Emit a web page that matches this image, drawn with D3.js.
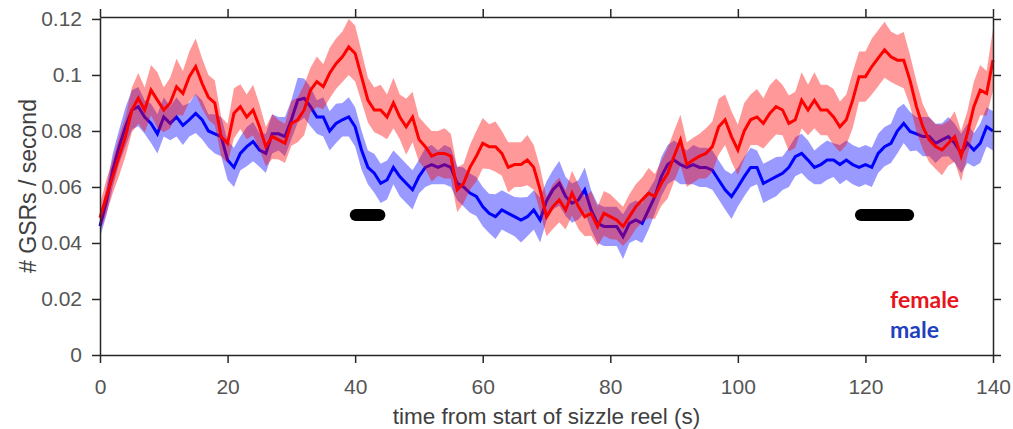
<!DOCTYPE html>
<html>
<head>
<meta charset="utf-8">
<title>GSRs per second</title>
<style>
  body { margin: 0; background: #fff; }
  svg { display: block; }
  .tick text { font-family: "Liberation Sans", Arial, sans-serif; fill: #555; }
</style>
</head>
<body>
<div id="container"></div>
<script src="https://cdn.jsdelivr.net/npm/d3@7"></script>
<script>
// --- data (one sample per second) ---
var femaleMean = [
  0.049, 0.0566, 0.0637, 0.071, 0.078, 0.0875, 0.0917, 0.0875, 0.0946, 0.091,
  0.0875, 0.090, 0.0958, 0.0934, 0.0994, 0.103, 0.097, 0.092, 0.090, 0.078,
  0.0756, 0.0863, 0.0887, 0.085, 0.0875, 0.0815, 0.0744, 0.078, 0.0768, 0.0756,
  0.0827, 0.084, 0.0875, 0.0946, 0.0976, 0.0958, 0.1006, 0.104, 0.1065, 0.110,
  0.1077, 0.0994, 0.091, 0.0875, 0.0875, 0.085, 0.090, 0.085, 0.0815, 0.085,
  0.077, 0.0744, 0.071, 0.072, 0.072, 0.071, 0.059, 0.0613, 0.067, 0.071,
  0.0756, 0.0744, 0.0744, 0.072, 0.067, 0.068, 0.068, 0.0696, 0.067, 0.059,
  0.0494, 0.053, 0.0554, 0.0518, 0.0578, 0.053, 0.0494, 0.0506, 0.0459, 0.0506,
  0.0494, 0.0482, 0.0459, 0.0494, 0.053, 0.0554, 0.0578, 0.0566, 0.0613, 0.0649,
  0.071, 0.0768, 0.068, 0.0696, 0.071, 0.072, 0.0744, 0.0815, 0.084, 0.078,
  0.0732, 0.080, 0.084, 0.085, 0.0827, 0.0863, 0.0887, 0.0875, 0.0827, 0.084,
  0.091, 0.0875, 0.091, 0.0875, 0.0875, 0.085, 0.0815, 0.084, 0.091, 0.0994,
  0.0994, 0.103, 0.106, 0.109, 0.1065, 0.1053, 0.1053, 0.098, 0.0887, 0.0815,
  0.0768, 0.0744, 0.0732, 0.0756, 0.078, 0.071, 0.0792, 0.0887, 0.0946, 0.0934,
  0.1053
];
var femaleSem = [
  .005,.006,.006,.007,.007,.008,.009,.008,.009,.010,
  .008,.009,.010,.008,.009,.010,.009,.008,.008,.007,
  .007,.009,.008,.008,.009,.008,.007,.008,.007,.007,
  .008,.008,.009,.008,.009,.008,.009,.009,.009,.010,
  .010,.009,.008,.008,.009,.008,.009,.008,.010,.009,
  .008,.008,.009,.008,.009,.008,.008,.007,.008,.009,
  .009,.008,.009,.008,.009,.008,.008,.009,.008,.008,
  .007,.008,.008,.007,.008,.008,.007,.008,.007,.008,
  .008,.007,.007,.008,.008,.008,.009,.008,.008,.009,
  .009,.009,.008,.008,.008,.009,.009,.010,.009,.009,
  .009,.010,.009,.010,.009,.010,.010,.009,.010,.010,
  .010,.009,.010,.009,.009,.010,.009,.009,.010,.009,
  .009,.010,.010,.010,.009,.009,.010,.009,.009,.008,
  .008,.008,.009,.008,.009,.009,.008,.009,.009,.008,
  .011
];
var maleMean = [
  0.046, 0.0548, 0.066, 0.0744, 0.0815, 0.0875, 0.0887, 0.085, 0.0827, 0.079,
  0.085, 0.0827, 0.085, 0.082, 0.084, 0.0863, 0.084, 0.080, 0.079, 0.078,
  0.0696, 0.067, 0.072, 0.0744, 0.0762, 0.0732, 0.072, 0.079, 0.079, 0.078,
  0.084, 0.091, 0.0917, 0.0887, 0.085, 0.085, 0.080, 0.0827, 0.084, 0.085,
  0.0815, 0.0732, 0.067, 0.0649, 0.0613, 0.0625, 0.067, 0.0637, 0.0613, 0.059,
  0.0637, 0.067, 0.068, 0.067, 0.068, 0.067, 0.0613, 0.060, 0.0578, 0.0566,
  0.053, 0.0506, 0.0494, 0.0518, 0.0506, 0.0494, 0.0482, 0.0494, 0.0518, 0.0482,
  0.055, 0.059, 0.0613, 0.0566, 0.0542, 0.0554, 0.059, 0.0518, 0.047, 0.0459,
  0.0459, 0.0459, 0.0423, 0.047, 0.0482, 0.047, 0.0518, 0.0566, 0.0637, 0.068,
  0.0696, 0.068, 0.067, 0.068, 0.067, 0.067, 0.066, 0.0625, 0.059, 0.0566,
  0.060, 0.0637, 0.067, 0.067, 0.0613, 0.0625, 0.0637, 0.0649, 0.067, 0.0708,
  0.072, 0.0696, 0.067, 0.068, 0.0696, 0.0696, 0.068, 0.0696, 0.068, 0.067,
  0.068, 0.067, 0.072, 0.0744, 0.0756, 0.080, 0.0827, 0.0798, 0.079, 0.078,
  0.078, 0.0756, 0.0768, 0.078, 0.0756, 0.072, 0.0756, 0.0732, 0.0756, 0.0815,
  0.080
];
var maleSem = [
  .004,.005,.006,.006,.007,.007,.007,.006,.007,.007,
  .007,.006,.007,.007,.006,.007,.007,.006,.007,.007,
  .007,.007,.006,.007,.007,.006,.007,.007,.006,.007,
  .007,.008,.007,.007,.006,.007,.007,.007,.006,.007,
  .007,.007,.006,.007,.007,.007,.006,.007,.007,.007,
  .006,.007,.007,.006,.007,.007,.006,.007,.007,.007,
  .007,.007,.008,.007,.007,.007,.008,.007,.007,.008,
  .007,.007,.008,.007,.007,.007,.008,.007,.007,.007,
  .007,.007,.008,.007,.007,.007,.007,.006,.007,.007,
  .007,.007,.006,.007,.007,.007,.007,.007,.007,.008,
  .007,.007,.007,.006,.007,.007,.007,.006,.007,.007,
  .007,.007,.006,.007,.007,.006,.007,.007,.007,.007,
  .007,.007,.007,.007,.007,.008,.007,.007,.006,.007,
  .007,.007,.006,.007,.007,.007,.007,.006,.007,.007,
  .007
];
var timeSec = d3.range(0, femaleMean.length);

// periods where female and male differ (black bars)
var sigStart = [40.1, 119.3];
var sigEnd   = [43.8, 126.7];
var sigLevel = 0.05;

var xTicks = [0, 20, 40, 60, 80, 100, 120, 140];
var yTicks = [0, 0.02, 0.04, 0.06, 0.08, 0.1, 0.12];
var yTickLabels = ["0", "0.02", "0.04", "0.06", "0.08", "0.1", "0.12"];

// --- layout ---
const width = 1013,
      height = 429,
      margin = { top: 17, right: 20, bottom: 74, left: 100 };

var svg = d3.select("#container").append("svg")
    .attr("width", width)
    .attr("height", height);

var x = d3.scaleLinear()
    .domain([0, 140])
    .range([margin.left, width - margin.right]);

var y = d3.scaleLinear()
    .domain([0, 0.1207])
    .range([height - margin.bottom, margin.top]);

function series(mean, sem) {
  return timeSec.map(function(t, i) {
    return { t: t, m: mean[i], lo: mean[i] - sem[i], hi: mean[i] + sem[i] };
  });
}
var female = series(femaleMean, femaleSem);
var male = series(maleMean, maleSem);

var band = d3.area()
    .x(function(d) { return x(d.t); })
    .y0(function(d) { return y(d.lo); })
    .y1(function(d) { return y(d.hi); });

var line = d3.line()
    .x(function(d) { return x(d.t); })
    .y(function(d) { return y(d.m); });

var plot = svg.append("g");

plot.append("path").datum(male)
    .attr("d", band)
    .attr("fill", "rgb(0,0,255)")
    .attr("fill-opacity", 0.4);
plot.append("path").datum(male)
    .attr("d", line)
    .attr("fill", "none")
    .attr("stroke", "#0000ff")
    .attr("stroke-width", 3);

plot.append("path").datum(female)
    .attr("d", band)
    .attr("fill", "rgb(255,0,0)")
    .attr("fill-opacity", 0.4);
plot.append("path").datum(female)
    .attr("d", line)
    .attr("fill", "none")
    .attr("stroke", "#ff0000")
    .attr("stroke-width", 3);

// significance bars
plot.selectAll("line.sig")
    .data(sigStart)
    .enter().append("line")
    .attr("class", "sig")
    .attr("x1", function(d) { return x(d); })
    .attr("x2", function(d, i) { return x(sigEnd[i]); })
    .attr("y1", y(sigLevel))
    .attr("y2", y(sigLevel))
    .attr("stroke", "#000")
    .attr("stroke-width", 12)
    .attr("stroke-linecap", "round");

// --- axes (box with ticks on all sides) ---
function styleAxis(g) {
  g.select(".domain").attr("stroke", "#262626").attr("stroke-width", 1.5);
  g.selectAll(".tick line").attr("stroke", "#262626").attr("stroke-width", 1.5);
  g.selectAll(".tick text").style("font-size", "21px");
}

svg.append("g")
    .attr("transform", "translate(0," + (height - margin.bottom) + ")")
    .call(d3.axisBottom(x).tickValues(xTicks).tickSize(8).tickSizeOuter(0).tickPadding(16))
    .call(styleAxis);

svg.append("g")
    .attr("transform", "translate(0," + margin.top + ")")
    .call(d3.axisTop(x).tickValues(xTicks).tickSize(8).tickSizeOuter(0).tickFormat(""))
    .call(styleAxis);

svg.append("g")
    .attr("transform", "translate(" + margin.left + ",0)")
    .call(d3.axisLeft(y).tickValues(yTicks).tickSize(8).tickSizeOuter(0).tickPadding(10)
      .tickFormat(function(d, i) { return yTickLabels[i]; }))
    .call(styleAxis);

svg.append("g")
    .attr("transform", "translate(" + (width - margin.right) + ",0)")
    .call(d3.axisRight(y).tickValues(yTicks).tickSize(8).tickSizeOuter(0).tickFormat(""))
    .call(styleAxis);

// axis titles
svg.append("text")
    .attr("text-anchor", "middle")
    .attr("x", (margin.left + width - margin.right) / 2)
    .attr("y", 424)
    .style("font-family", "Liberation Sans, Arial, sans-serif")
    .style("font-size", "22.5px")
    .style("fill", "#404040")
    .text("time from start of sizzle reel (s)");

svg.append("text")
    .attr("text-anchor", "middle")
    .attr("transform", "translate(36," + 186 + ")rotate(-90)")
    .style("font-family", "Liberation Sans, Arial, sans-serif")
    .style("font-size", "23px")
    .style("fill", "#404040")
    .text("# GSRs / second");

// legend
var legendNames = ["female", "male"];
var legendColors = ["#e8141c", "#1f3fbf"];
svg.selectAll("text.legend")
    .data(legendNames)
    .enter().append("text")
    .attr("class", "legend")
    .attr("x", 890)
    .attr("y", function(d, i) { return 308 + i * 30; })
    .style("font-family", "Lato, sans-serif")
    .style("font-weight", "bold")
    .style("font-size", "23px")
    .style("fill", function(d, i) { return legendColors[i]; })
    .text(function(d) { return d; });
</script>
</body>
</html>
